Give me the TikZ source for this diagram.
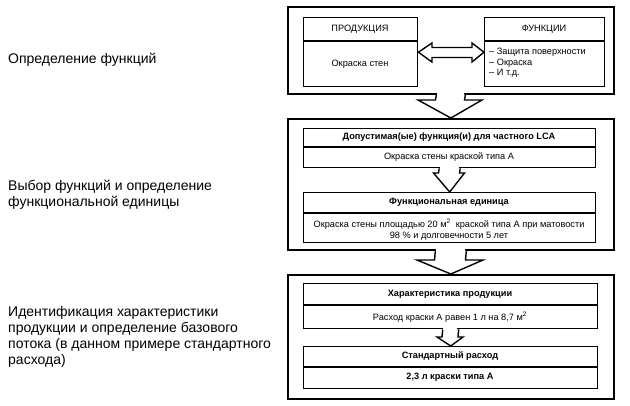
\documentclass[tikz,border=0pt]{standalone}
\usepackage{fontspec}
\setmainfont{Liberation Sans}
\begin{document}
\begin{tikzpicture}[x=1pt,y=-1pt,
  outerbox/.style={draw=black,line width=1.7pt,fill=white,minimum width=#1,anchor=north west,inner sep=0pt},
  innerbox/.style={draw=black,line width=1.4pt,fill=white,anchor=north west,inner sep=0pt},
  divline/.style={line width=1.2pt},
  hdr/.style={font=\fontsize{9.2}{10}\selectfont\bfseries,inner sep=0pt},
  hdrr/.style={font=\fontsize{9.2}{10}\selectfont,inner sep=0pt},
  txt/.style={font=\fontsize{9.2}{11}\selectfont,inner sep=0pt,align=center},
  side/.style={font=\fontsize{14}{16}\selectfont,anchor=west,align=left,inner sep=0pt},
  blk/.style={draw=black,line width=1.4pt,fill=white,line join=miter}
]
\useasboundingbox (0,0) rectangle (630,405);

% left texts
\node[side] (t1) at (8,60) {Определение функций};
\node[side] (t2) at (8,195) {Выбор функций и определение\\функциональной единицы};
\node[side] (t3) at (8,337) {Идентификация характеристики\\продукции и определение базового\\потока (в данном примере стандартного\\расхода)};

% outer boxes
\node[outerbox=326pt,minimum height=87pt] (b1) at (287,6) {};
\node[outerbox=326pt,minimum height=131pt] (b2) at (287,118) {};
\node[outerbox=326pt,minimum height=124pt] (b3) at (287,274) {};

% box 1 content
\node[innerbox,minimum width=114pt,minimum height=69pt] (prod) at (303,17) {};
\draw[divline] (303,41) -- (417,41);
\node[hdrr] (prodh) at (360,29) {ПРОДУКЦИЯ};
\node[txt] (prodt) at (360,64) {Окраска стен};

\node[innerbox,minimum width=120pt,minimum height=69pt] (func) at (484,17) {};
\draw[divline] (484,41) -- (604,41);
\node[hdrr] (funch) at (544,29) {ФУНКЦИИ};
\node[txt,anchor=west,align=left,font=\fontsize{9.2}{10.5}\selectfont] (funct) at (489,63) {– Защита поверхности\\– Окраска\\– И т.д.};

% double arrow
\draw[blk] (prod.east) -- (432,43) -- (432,47.5) -- (472,47.5) -- (472,43) -- (func.west) -- (472,62) -- (472,57.5) -- (432,57.5) -- (432,62) -- cycle;

% box 2 content
\node[innerbox,minimum width=292pt,minimum height=39pt] (adm) at (303,128) {};
\draw[divline] (303,147) -- (595,147);
\node[hdr] (admh) at (449,137.5) {Допустимая(ые) функция(и) для частного LCA};
\node[txt] (admt) at (449,157.5) {Окраска стены краской типа А};

\node[innerbox,minimum width=292pt,minimum height=50pt] (fu) at (303,192) {};
\draw[divline] (303,213) -- (595,213);
\node[hdr] (fuh) at (449,202.5) {Функциональная единица};
\node[txt] (fut) at (449,230) {Окраска стены площадью 20 м\textsuperscript{2}\ \ краской типа А при матовости\\98 \% и долговечности 5 лет};

% box 3 content
\node[innerbox,minimum width=294pt,minimum height=45pt] (chr) at (303,283) {};
\draw[divline] (303,305) -- (597,305);
\node[hdr] (chrh) at (450,294.5) {Характеристика продукции};
\node[txt] (chrt) at (450,317) {Расход краски А равен 1 л на 8,7 м\textsuperscript{2}};

\node[innerbox,minimum width=294pt,minimum height=42pt] (std) at (303,346) {};
\draw[divline] (303,367) -- (597,367);
\node[hdr] (stdh) at (450,356.5) {Стандартный расход};
\node[hdr] (stdt) at (450,377.5) {2,3 л краски типа А};

% big arrow b1 -> b2
\draw[blk] ([xshift=-14.5pt]b1.south) -- (435.5,100) -- (418,100) -- (b2.north) -- (482,100) -- (464.5,100) -- ([xshift=14.5pt]b1.south);
\fill[white] (436.5,91.5) rectangle (463.5,96);

% small arrow adm -> fu
\draw[blk] ([xshift=-10.5pt]adm.south) -- (438.5,173) -- (433.5,173) -- (fu.north) -- (464.5,173) -- (459.5,173) -- ([xshift=10.5pt]adm.south);
\fill[white] (439.5,165.5) rectangle (458.5,169);

% big arrow b2 -> b3
\draw[blk] ([xshift=-15.5pt]b2.south) -- (434.5,260) -- (417,260) -- (b3.north) -- (483,260) -- (465.5,260) -- ([xshift=15.5pt]b2.south);
\fill[white] (435.5,247.5) rectangle (464.5,252);

% small arrow chr -> std
\draw[blk] ([xshift=-8pt]chr.south) -- (442,337) -- (437,337) -- (std.north) -- (463,337) -- (458,337) -- ([xshift=8pt]chr.south);
\fill[white] (443,326.5) rectangle (457,330);
\end{tikzpicture}
\end{document}
